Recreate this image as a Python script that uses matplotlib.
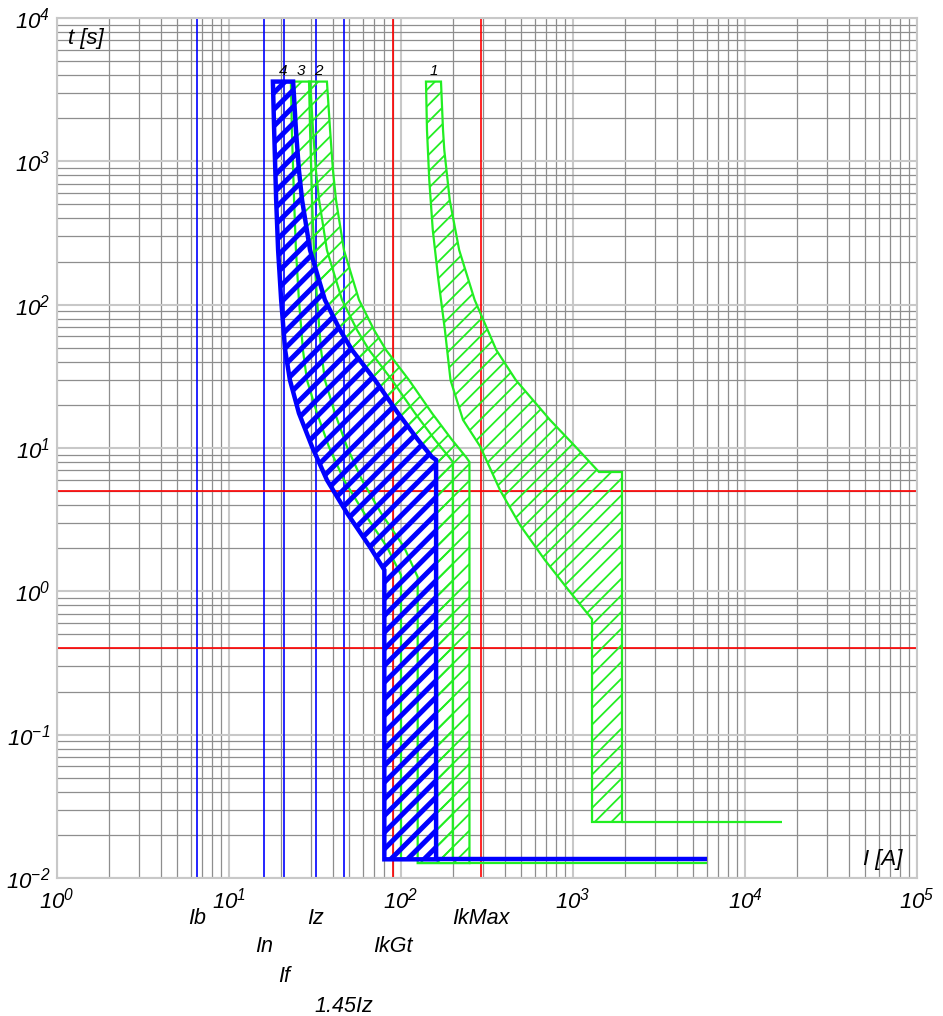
import matplotlib.pyplot as plt
import numpy as np
from matplotlib.patches import Polygon
from matplotlib.ticker import LogLocator, NullFormatter
from matplotlib.transforms import blended_transform_factory

plt.rcParams['font.family'] = ['Liberation Sans', 'DejaVu Sans']
plt.rcParams['mathtext.fontset'] = 'custom'
plt.rcParams['mathtext.it'] = 'Liberation Sans:italic'
plt.rcParams['mathtext.rm'] = 'Liberation Sans:italic'
plt.rcParams['mathtext.default'] = 'it'

# reference currents (A) shown as vertical lines
mark_names = ['Ib', 'In', 'If', 'Iz', '1.45Iz', 'IkGt', 'IkMax']
mark_currents = [6.5, 16, 20.8, 32, 46.4, 90, 292]
# time limits (s) shown as horizontal lines
time_limits = [5, 0.4]

# band 4 (blue) - upper and lower boundary
b4_hi_I = [23.6, 24.5, 25.5, 26.6, 29.6, 36.1, 44.2, 51.9, 70.6, 96.1, 125.6, 151.4, 160]
b4_hi_t = [3600, 1654, 870, 537, 240, 108, 66.6, 48.3, 29.8, 17.5, 11.4, 8.65, 8.25]
b4_lo_I = [18.0, 18.3, 18.8, 19.3, 20.1, 21.2, 22.6, 25.5, 30.4, 37.1, 48.5, 66.0, 80]
b4_lo_t = [3600, 1654, 537, 240, 108, 48.3, 29.8, 17.5, 10.2, 5.98, 3.52, 2.04, 1.41]
b4_tmin, b4_Iend = 0.0135, 6000

# band 3 (green)
b3_hi_I = [29.6, 30.8, 32.0, 33.4, 37.1, 45.4, 55.5, 65.2, 88.6, 120.6, 157.6, 190.1, 200]
b3_hi_t = [3600, 1654, 870, 537, 240, 108, 66.6, 48.3, 29.8, 17.5, 11.4, 8.65, 8.0]
b3_lo_I = [22.9, 23.2, 23.9, 24.5, 25.5, 26.9, 28.4, 32.5, 38.1, 46.6, 61.0, 82.9, 100]
b3_lo_t = [3600, 1654, 537, 240, 108, 48.3, 29.8, 17.5, 10.2, 5.98, 3.52, 2.04, 1.3]
b3_tmin, b3_Iend = 0.0135, 6000

# band 2 (green)
b2_hi_I = [37.1, 38.7, 40.2, 41.9, 46.6, 57.0, 69.7, 81.8, 111.3, 151.4, 197.9, 238.7, 250]
b2_hi_t = [3600, 1654, 870, 537, 240, 108, 66.6, 48.3, 29.8, 17.5, 11.4, 8.65, 8.0]
b2_lo_I = [29.2, 29.6, 30.4, 31.2, 32.5, 34.3, 36.1, 41.3, 48.5, 59.3, 76.5, 104.1, 125]
b2_lo_t = [3600, 1654, 537, 240, 108, 48.3, 29.8, 17.5, 10.2, 5.98, 3.52, 2.04, 1.26]
b2_tmin, b2_Iend = 0.0127, 6000

# band 1 (green)
b1_hi_I = [170.8, 175.5, 178.5, 192, 218, 268, 358, 465, 735, 1027, 1416, 1927]
b1_hi_t = [3600, 1654, 1200, 537, 240, 108, 48.3, 29.8, 15.7, 10.3, 6.8, 6.8]
b1_lo_I = [139.7, 141.6, 146, 153, 165, 180, 194, 229.4, 288, 376.3, 491.9, 687.5, 960.8, 1290]
b1_lo_t = [3600, 1654, 741, 332, 148.6, 66.6, 29.8, 15.7, 10.3, 5.09, 2.90, 1.65, 0.99, 0.64]
b1_tmin, b1_Iend = 0.0246, 16400

xticks = [1, 10, 100, 1000, 10000, 100000]
xtick_labels = ['$10^{0}$', '$10^{1}$', '$10^{2}$', '$10^{3}$', '$10^{4}$', '$10^{5}$']
yticks = [0.01, 0.1, 1, 10, 100, 1000, 10000]
ytick_labels = ['$10^{-2}$', '$10^{-1}$', '$10^{0}$', '$10^{1}$', '$10^{2}$', '$10^{3}$', '$10^{4}$']

BLUE = '#0000ff'
GREEN = '#22ee22'
RED = '#ff0000'

fig = plt.figure(figsize=(9.43, 10.16), dpi=100)
ax = fig.add_axes([57 / 943, 1 - 878 / 1016, 860 / 943, 860 / 1016])
ax.set_xscale('log')
ax.set_yscale('log')
ax.set_xlim(1, 1e5)
ax.set_ylim(1e-2, 1e4)

for axis in (ax.xaxis, ax.yaxis):
    axis.set_minor_locator(LogLocator(base=10, subs=np.arange(2, 10), numticks=100))
    axis.set_minor_formatter(NullFormatter())
ax.set_axisbelow(True)
ax.grid(which='minor', color='#8e8e8e', lw=0.9)
ax.grid(which='major', color='#c8c8c8', lw=1.5)
for s in ax.spines.values():
    s.set_color('#c8c8c8')
    s.set_linewidth(1.5)

ax.set_xticks(xticks)
ax.set_xticklabels(xtick_labels)
ax.set_yticks(yticks)
ax.set_yticklabels(ytick_labels)
ax.tick_params(which='both', length=0)
ax.tick_params(axis='x', pad=7, labelsize=16)
ax.tick_params(axis='y', pad=5, labelsize=16)

# reference lines
mark_colors = [BLUE, BLUE, BLUE, BLUE, BLUE, RED, RED]
for cur, col in zip(mark_currents, mark_colors):
    ax.axvline(cur, color=col, lw=1.2, zorder=2)
for t in time_limits:
    ax.axhline(t, color=RED, lw=1.2, zorder=2)


def draw_band(hi_I, hi_t, lo_I, lo_t, tmin, Iend, color, lw, hatch_lw, z):
    pts = list(zip(lo_I, lo_t))
    pts += [(lo_I[-1], tmin), (hi_I[-1], tmin)]
    pts += list(zip(hi_I, hi_t))[::-1]
    plt.rcParams['hatch.linewidth'] = hatch_lw
    poly = Polygon(pts, closed=True, facecolor='none', edgecolor=color,
                   hatch='//', lw=lw, zorder=z, joinstyle='miter')
    if hasattr(poly, 'set_hatch_linewidth'):
        poly.set_hatch_linewidth(hatch_lw)
    ax.add_patch(poly)
    ax.plot([hi_I[-1], Iend], [tmin, tmin], color=color, lw=lw,
            solid_capstyle='butt', zorder=z)
    # curve number sits above the middle of the band top
    return np.sqrt(lo_I[0] * hi_I[0])


bands = [
    ('1', b1_hi_I, b1_hi_t, b1_lo_I, b1_lo_t, b1_tmin, b1_Iend, GREEN, 1.6, 1.3),
    ('2', b2_hi_I, b2_hi_t, b2_lo_I, b2_lo_t, b2_tmin, b2_Iend, GREEN, 1.6, 1.3),
    ('3', b3_hi_I, b3_hi_t, b3_lo_I, b3_lo_t, b3_tmin, b3_Iend, GREEN, 1.6, 1.3),
    ('4', b4_hi_I, b4_hi_t, b4_lo_I, b4_lo_t, b4_tmin, b4_Iend, BLUE, 3.2, 3.6),
]
for i, (name, hI, ht, lI, lt, tmin, Iend, col, lw, hlw) in enumerate(bands):
    xc = draw_band(hI, ht, lI, lt, tmin, Iend, col, lw, hlw, 3 + i)
    ax.text(xc, 4300, name, fontsize=11, style='italic', ha='center', va='center')

ax.text(0.013, 0.988, 't [s]', transform=ax.transAxes, fontsize=16,
        style='italic', ha='left', va='top')
ax.text(0.983, 0.021, 'I [A]', transform=ax.transAxes, fontsize=16,
        style='italic', ha='right', va='center')

# labels of the reference lines, staggered under the axis
label_rows = [0, 1, 2, 0, 3, 1, 0]
row_px = [918, 947, 977, 1006]
trans = blended_transform_factory(ax.transData, fig.transFigure)
for name, cur, r in zip(mark_names, mark_currents, label_rows):
    ax.text(cur, 1 - row_px[r] / 1016, name, transform=trans, fontsize=15.5,
            style='italic', ha='center', va='center', clip_on=False)

fig.savefig('out.png', dpi=100)
plt.close(fig)
